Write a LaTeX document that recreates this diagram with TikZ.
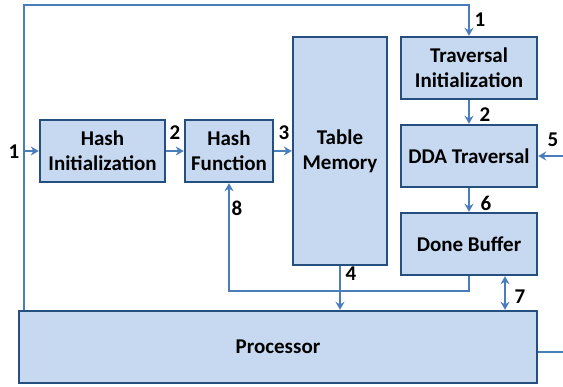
\documentclass[tikz,border=0pt]{standalone}
\usepackage{fontspec}
\setmainfont{Carlito}
\usetikzlibrary{arrows.meta}

\definecolor{boxfill}{HTML}{C6D9F1}
\definecolor{boxline}{HTML}{254F7F}
\definecolor{wirecol}{HTML}{4A7EBB}

\tikzset{
  block/.style={draw=boxline, line width=2.4pt, fill=boxfill,
    font=\fontsize{21}{25}\selectfont\bfseries, align=center, inner sep=0pt},
  wire/.style={draw=wirecol, line width=2pt},
  flow/.style={wire, -{Stealth[length=8pt,width=9pt]}},
  lbl/.style={font=\fontsize{21}{25}\selectfont\bfseries}
}

\begin{document}
\begin{tikzpicture}[x=1pt,y=-1pt]
	\useasboundingbox (0,0) rectangle (563,387);

	% blocks
	\node[block, minimum width=125pt, minimum height=62pt] (hinit) at (102.5,151) {Hash\\Initialization};
	\node[block, minimum width=88pt, minimum height=62pt] (hfun) at (229,151) {Hash\\Function};
	\node[block, minimum width=94pt, minimum height=228pt] (tmem) at (340,151) {Table\\Memory};
	\node[block, minimum width=136pt, minimum height=62pt] (tinit) at (469,68) {Traversal\\Initialization};
	\node[block, minimum width=136pt, minimum height=62pt] (dda) at (469,156) {DDA Traversal};
	\node[block, minimum width=136pt, minimum height=62pt] (done) at (469,244) {Done Buffer};
	\node[block, minimum width=518pt, minimum height=72pt] (proc) at (278,347) {Processor};

	% free ends
	\coordinate (tl) at (24,5);
	\coordinate (in5) at (563,156);
	\coordinate (lp) at (469,291);
	\coordinate (c7) at (505,0);
	\coordinate (out) at (563,352);

	% connectors
	\draw[flow] (proc.north -| tl) -- (tl) -- (tl -| tinit) -- (tinit.north);
	\draw[flow] (tl |- hinit) -- (hinit.west);
	\draw[flow] (hinit.east) -- (hfun.west);
	\draw[flow] (hfun.east) -- (tmem.west |- hfun.east);
	\draw[flow] (tinit.south) -- (dda.north);
	\draw[flow] (in5) -- (dda.east);
	\draw[flow] (dda.south) -- (done.north);
	\draw[flow] (done.south) -- (lp) -- (lp -| hfun) -- (hfun.south);
	\draw[flow] (tmem.south) -- (tmem.south |- proc.north);
	\draw[wire, {Stealth[length=8pt,width=9pt]}-{Stealth[length=8pt,width=9pt]}] (done.south -| c7) -- (proc.north -| c7);
	\draw[wire] (proc.east |- out) -- (out);

	% numbers
	\node[lbl] (n1a) at (480,20) {1};
	\node[lbl] (n1b) at (14,152) {1};
	\node[lbl] (n2a) at (175,133) {2};
	\node[lbl] (n3) at (284,133) {3};
	\node[lbl] (n2b) at (485,115) {2};
	\node[lbl] (n5) at (553,140) {5};
	\node[lbl] (n6) at (486,203) {6};
	\node[lbl] (n8) at (237,208) {8};
	\node[lbl] (n4) at (351,274) {4};
	\node[lbl] (n7) at (520,297) {7};
\end{tikzpicture}
\end{document}
